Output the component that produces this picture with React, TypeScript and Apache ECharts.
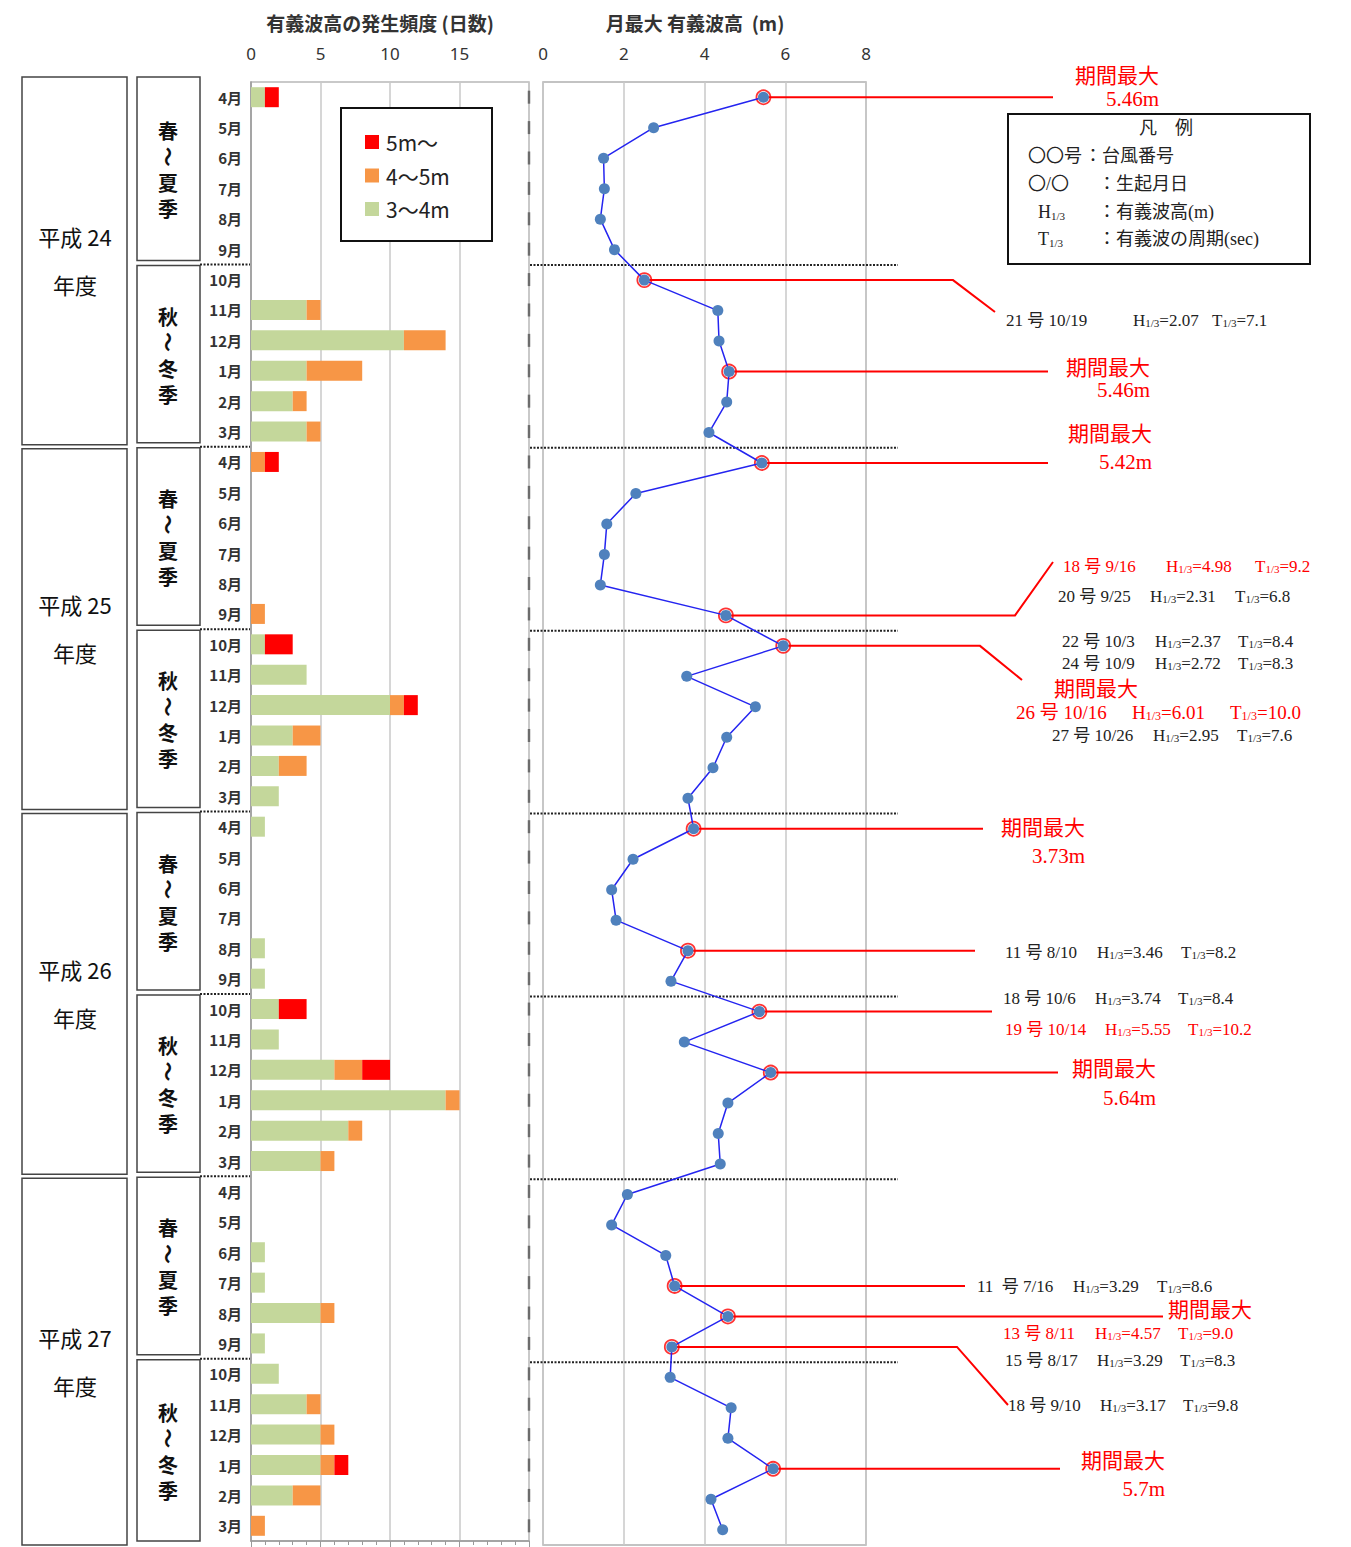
import React, { useEffect, useRef } from 'react';
import * as echarts from 'echarts';

// ---------- data ----------
const months = ['4月', '5月', '6月', '7月', '8月', '9月', '10月', '11月', '12月', '1月', '2月', '3月'];
const fiscalYears = ['平成 24', '平成 25', '平成 26', '平成 27'];
const seasonNames = ['春～夏季', '秋～冬季'];
const barAxisTicks = [0, 5, 10, 15, 20];
const lineAxisTicks = [0, 2, 4, 6, 8];

// days per month (H24 Apr ... H27 Mar)
const days3to4 = [
  1, 0, 0, 0, 0, 0, 0, 4, 11, 4, 3, 4,
  0, 0, 0, 0, 0, 0, 1, 4, 10, 3, 2, 2,
  1, 0, 0, 0, 1, 1, 2, 2, 6, 14, 7, 5,
  0, 0, 1, 1, 5, 1, 2, 4, 5, 5, 3, 0,
];
const days4to5 = [
  0, 0, 0, 0, 0, 0, 0, 1, 3, 4, 1, 1,
  1, 0, 0, 0, 0, 1, 0, 0, 1, 2, 2, 0,
  0, 0, 0, 0, 0, 0, 0, 0, 2, 1, 1, 1,
  0, 0, 0, 0, 1, 0, 0, 1, 1, 1, 2, 1,
];
const days5plus = [
  1, 0, 0, 0, 0, 0, 0, 0, 0, 0, 0, 0,
  1, 0, 0, 0, 0, 0, 2, 0, 1, 0, 0, 0,
  0, 0, 0, 0, 0, 0, 2, 0, 2, 0, 0, 0,
  0, 0, 0, 0, 0, 0, 0, 0, 0, 1, 0, 0,
];
const monthlyMaxH = [
  5.46, 2.74, 1.50, 1.52, 1.42, 1.77, 2.51, 4.33, 4.36, 4.61, 4.55, 4.11,
  5.42, 2.30, 1.58, 1.52, 1.42, 4.53, 5.95, 3.56, 5.26, 4.55, 4.21, 3.59,
  3.73, 2.23, 1.70, 1.81, 3.59, 3.17, 5.36, 3.50, 5.64, 4.58, 4.34, 4.39,
  2.09, 1.70, 3.04, 3.26, 4.58, 3.19, 3.15, 4.66, 4.58, 5.70, 4.16, 4.45,
];
const highlightIdx = [0, 6, 9, 12, 17, 18, 24, 28, 30, 32, 39, 40, 41, 45];

const typhoonNo = ['21', '18', '20', '22', '24', '26', '27', '11', '18', '19', '11 ', '13', '15', '18'];
const typhoonDate = ['10/19', '9/16', '9/25', '10/3', '10/9', '10/16', '10/26', '8/10', '10/6', '10/14', '7/16', '8/11', '8/17', '9/10'];
const typhoonH = ['2.07', '4.98', '2.31', '2.37', '2.72', '6.01', '2.95', '3.46', '3.74', '5.55', '3.29', '4.57', '3.29', '3.17'];
const typhoonT = ['7.1', '9.2', '6.8', '8.4', '8.3', '10.0', '7.6', '8.2', '8.4', '10.2', '8.6', '9.0', '8.3', '9.8'];
const typhoonRed = [false, true, false, false, false, true, false, false, false, true, false, true, false, false];
const periodMaxValues = ['5.46m', '5.46m', '5.42m', '3.73m', '5.64m', '5.7m'];

// ---------- layout ----------
const typhoonPos = [
  [1006, 1133, 1212, 320], [1063, 1166, 1255, 566], [1058, 1150, 1235, 596],
  [1062, 1155, 1238, 641], [1062, 1155, 1238, 663], [1016, 1132, 1230, 712],
  [1052, 1153, 1237, 735], [1005, 1097, 1181, 952], [1003, 1095, 1178, 998],
  [1005, 1105, 1188, 1029], [977, 1073, 1157, 1286], [1003, 1095, 1178, 1333],
  [1005, 1097, 1180, 1360], [1008, 1100, 1183, 1405],
];
const periodMaxPos = [
  [1159, 76, 99], [1150, 368, 390], [1152, 434, 462], [1085, 828, 856], [1156, 1069, 1098], [1165, 1461, 1489],
];
const periodMaxSolo = [[1138, 689], [1252, 1310]];
const leaderEnd = [1053, 953, 1048, 1048, 1015, 980, 983, 975, 992, 1058, 965, 1163, 957, 1060];
const leaderBend: Record<number, number[]> = { 1: [995, 312], 4: [1053, 562], 5: [1022, 680], 12: [1008, 1405] };

const BAR_GRID = { left: 251, top: 82, width: 278, height: 1459 };
const LINE_GRID = { left: 543, top: 82, width: 323, height: 1463 };

const SANS = "'Noto Sans CJK JP', 'Noto Sans', sans-serif";
const SERIF = "'Liberation Serif', 'DejaVu Serif', 'Noto Sans CJK JP', serif";
const RED = '#ff0000';

function txt(x: number, y: number, text: string, o: any = {}, z = 5) {
  return {
    type: 'text', x, y, z, silent: true, rotation: o.rotation || 0,
    style: {
      text, fill: o.fill || '#222', fontSize: o.fontSize || 17, fontFamily: o.fontFamily || SERIF,
      fontWeight: o.fontWeight || 'normal', align: o.align || 'left', verticalAlign: 'middle',
      rich: o.rich,
    },
  };
}

function subText(x: number, y: number, letter: string, val: string, fill: string, fs: number) {
  return txt(x, y, `{n|${letter}}{s|1/3}{n|=${val}}`, {
    fill, fontSize: fs,
    rich: {
      n: { fontSize: fs, fontFamily: SERIF, fill },
      s: { fontSize: Math.round(fs * 0.62), fontFamily: SERIF, fill, verticalAlign: 'bottom' },
    },
  });
}

export default function App() {
  const ref = useRef<HTMLDivElement>(null);
  useEffect(() => {
    document.body.style.margin = '0';
    const chart = echarts.init(ref.current!, null, { renderer: 'svg' });
    const cats = fiscalYears.flatMap((y) => months.map((m) => y + m));
    const option: any = {
      animation: false,
      backgroundColor: '#fff',
      grid: [
        { ...BAR_GRID, show: true, borderColor: '#b8b8b8', borderWidth: 1.5 },
        { ...LINE_GRID, show: true, borderColor: '#b0b0b0', borderWidth: 1.5 },
      ],
      xAxis: [
        {
          type: 'value', gridIndex: 0, position: 'top', min: barAxisTicks[0], max: barAxisTicks[4], interval: 5,
          axisLine: { show: false }, axisTick: { show: false },
          axisLabel: { fontSize: 17, color: '#333', fontFamily: "'Noto Sans', sans-serif", margin: 20,
            formatter: (v: number) => (v === barAxisTicks[4] ? '' : String(v)) },
          splitLine: { show: true, lineStyle: { color: '#c8c8c8', width: 1.5 } },
        },
        {
          type: 'value', gridIndex: 0, position: 'bottom', min: 0, max: 20, interval: 5,
          axisLine: { show: true, onZero: false, lineStyle: { color: '#999', width: 1.5 } },
          axisTick: { show: true, length: 7, lineStyle: { color: '#999' } },
          minorTick: { show: true, splitNumber: 5, length: 4, lineStyle: { color: '#999' } },
          axisLabel: { show: false }, splitLine: { show: false },
        },
        {
          type: 'value', gridIndex: 1, position: 'top', min: lineAxisTicks[0], max: lineAxisTicks[4], interval: 2,
          axisLine: { show: false }, axisTick: { show: false },
          axisLabel: { fontSize: 17, color: '#333', fontFamily: "'Noto Sans', sans-serif", margin: 20 },
          splitLine: { show: true, lineStyle: { color: '#c8c8c8', width: 1.5 } },
        },
      ],
      yAxis: [
        {
          type: 'category', gridIndex: 0, inverse: true, data: cats,
          axisLine: { show: true, lineStyle: { color: '#999', width: 1.5 } }, axisTick: { show: false },
          axisLabel: { fontSize: 15, fontWeight: 'bold', color: '#333', fontFamily: SANS, margin: 9,
            formatter: (_v: string, i: number) => months[i % 12] },
        },
        {
          type: 'category', gridIndex: 1, inverse: true, data: cats, show: false,
        },
      ],
      series: [
        { type: 'bar', name: '3〜4m', xAxisIndex: 0, yAxisIndex: 0, stack: 'd', data: days3to4, barWidth: 20,
          itemStyle: { color: '#c4d79b' } },
        { type: 'bar', name: '4〜5m', xAxisIndex: 0, yAxisIndex: 0, stack: 'd', data: days4to5, barWidth: 20,
          itemStyle: { color: '#f79646' } },
        { type: 'bar', name: '5m〜', xAxisIndex: 0, yAxisIndex: 0, stack: 'd', data: days5plus, barWidth: 20,
          itemStyle: { color: '#ff0000' } },
        { type: 'scatter', xAxisIndex: 0, yAxisIndex: 0, clip: false, symbol: 'rect', symbolSize: [2.5, 13],
          itemStyle: { color: '#555' }, data: cats.map((_c, i) => [barAxisTicks[4], i]), silent: true },
        { type: 'line', xAxisIndex: 2, yAxisIndex: 1, data: monthlyMaxH.map((v, i) => [v, i]),
          symbol: 'circle', symbolSize: 11, z: 4,
          lineStyle: { color: '#2424f0', width: 1.5 }, itemStyle: { color: '#4f81bd' } },
        { type: 'scatter', xAxisIndex: 2, yAxisIndex: 1, z: 3, symbol: 'circle', symbolSize: 14,
          data: highlightIdx.map((i) => [monthlyMaxH[i], i]),
          itemStyle: { color: 'rgba(255,255,255,0)', borderColor: RED, borderWidth: 1.8 } },
      ],
    };
    chart.setOption(option);

    const g: any[] = [];
    const rowB = BAR_GRID.height / 48;
    const rowL = LINE_GRID.height / 48;
    const bB = (k: number) => BAR_GRID.top + 6 * k * rowB;
    const bL = (k: number) => LINE_GRID.top + 6 * k * rowL;

    // year boxes
    fiscalYears.forEach((y, j) => {
      const top = j === 0 ? 77 : bB(2 * j) + 2;
      const bot = j === 3 ? 1545 : bB(2 * j + 2) - 2;
      g.push({ type: 'rect', z: 1, shape: { x: 22, y: top, width: 105, height: bot - top },
        style: { fill: '#fff', stroke: '#444', lineWidth: 1.5 } });
      const cy = (top + bot) / 2;
      g.push(txt(75, cy - 25, y, { fontFamily: SANS, fontSize: 22, align: 'center', fill: '#111' }));
      g.push(txt(75, cy + 23, '年度', { fontFamily: SANS, fontSize: 22, align: 'center', fill: '#111' }));
    });
    // season boxes (vertical writing; the wave dash is turned upright)
    for (let k = 0; k < 8; k++) {
      const top = k === 0 ? 77 : bB(k) + 1;
      const bot = k === 7 ? 1541 : bB(k + 1) - 4;
      g.push({ type: 'rect', z: 1, shape: { x: 137, y: top, width: 63, height: bot - top },
        style: { fill: '#fff', stroke: '#444', lineWidth: 1.5 } });
      const cy = (top + bot) / 2 + 1;
      seasonNames[k % 2].split('').forEach((c, ci) => {
        const yy = cy - 39 + ci * 26;
        g.push(txt(168, yy, c, {
          fontFamily: SANS, fontSize: 20, align: 'center', fill: '#111', fontWeight: 'bold',
          rotation: c === '～' ? -Math.PI / 2 : 0,
        }));
      });
    }
    // dotted separators
    for (let k = 1; k < 8; k++) {
      g.push({ type: 'line', z: 2, shape: { x1: 200, y1: bB(k), x2: 250, y2: bB(k) },
        style: { stroke: '#222', lineWidth: 2, lineDash: [2, 1.5] } });
      g.push({ type: 'line', z: 2, shape: { x1: 530, y1: bL(k), x2: 898, y2: bL(k) },
        style: { stroke: '#222', lineWidth: 2, lineDash: [2, 1.5] } });
    }
    // axis titles
    g.push(txt(380, 22, '有義波高の発生頻度 (日数)', { fontFamily: SANS, fontSize: 19, fontWeight: 'bold', align: 'center', fill: '#333' }));
    g.push(txt(695, 22, '月最大 有義波高  (m)', { fontFamily: SANS, fontSize: 19, fontWeight: 'bold', align: 'center', fill: '#333' }));

    // bar legend
    g.push({ type: 'rect', z: 10, shape: { x: 341, y: 108, width: 151, height: 133 },
      style: { fill: '#fff', stroke: '#111', lineWidth: 2 } });
    const legendItems = [['5m〜', '#ff0000'], ['4〜5m', '#f79646'], ['3〜4m', '#c4d79b']];
    legendItems.forEach(([label, color], i) => {
      const yy = 142 + i * 33.5;
      g.push({ type: 'rect', z: 11, shape: { x: 365, y: yy - 7, width: 14, height: 14 }, style: { fill: color } });
      g.push(txt(386, yy, label, { fontFamily: SANS, fontSize: 21, fill: '#222' }, 11));
    });

    // 凡例 box
    const richHT = { n: { fontSize: 18, fontFamily: SERIF }, s: { fontSize: 11, fontFamily: SERIF, verticalAlign: 'bottom' } };
    g.push({ type: 'rect', z: 10, shape: { x: 1008, y: 114, width: 302, height: 150 },
      style: { fill: '#fff', stroke: '#111', lineWidth: 2 } });
    g.push(txt(1166, 128, '凡　例', { fontSize: 18, align: 'center' }, 11));
    g.push(txt(1028, 156, '〇〇号', { fontSize: 18 }, 11));
    g.push(txt(1084, 156, '：台風番号', { fontSize: 18 }, 11));
    g.push(txt(1028, 184, '〇/〇', { fontSize: 18 }, 11));
    g.push(txt(1098, 184, '：生起月日', { fontSize: 18 }, 11));
    g.push(txt(1038, 212, '{n|H}{s|1/3}', { fontSize: 18, rich: richHT }, 11));
    g.push(txt(1098, 212, '：有義波高(m)', { fontSize: 18 }, 11));
    g.push(txt(1038, 239, '{n|T}{s|1/3}', { fontSize: 18, rich: richHT }, 11));
    g.push(txt(1098, 239, '：有義波の周期(sec)', { fontSize: 18 }, 11));

    // period max notes
    periodMaxValues.forEach((v, i) => {
      const [rx, y1, y2] = periodMaxPos[i];
      g.push(txt(rx, y1, '期間最大', { fill: RED, fontSize: 21, align: 'right' }));
      g.push(txt(rx, y2, v, { fill: RED, fontSize: 21, align: 'right' }));
    });
    periodMaxSolo.forEach(([rx, y]) => g.push(txt(rx, y, '期間最大', { fill: RED, fontSize: 21, align: 'right' })));

    // typhoon notes
    typhoonNo.forEach((no, i) => {
      const [x1, x2, x3, y] = typhoonPos[i];
      const fill = typhoonRed[i] ? RED : '#222';
      const fs = i === 5 ? 19 : 17;
      g.push(txt(x1, y, `${no} 号 ${typhoonDate[i]}`, { fill, fontSize: fs }));
      g.push(subText(x2, y, 'H', typhoonH[i], fill, fs));
      g.push(subText(x3, y, 'T', typhoonT[i], fill, fs));
    });

    // leader lines from highlighted points
    highlightIdx.forEach((idx, k) => {
      const p = chart.convertToPixel({ seriesIndex: 4 }, [monthlyMaxH[idx], idx]) as number[];
      const pts = [[p[0], p[1]], [leaderEnd[k], p[1]]];
      if (leaderBend[k]) pts.push(leaderBend[k]);
      g.push({ type: 'polyline', z: 1, shape: { points: pts }, style: { stroke: RED, lineWidth: 2, fill: 'none' } });
    });

    chart.setOption({ graphic: g });
    return () => chart.dispose();
  }, []);
  return <div ref={ref} style={{ position: 'absolute', left: 0, top: 0, width: 1351, height: 1547 }} />;
}
